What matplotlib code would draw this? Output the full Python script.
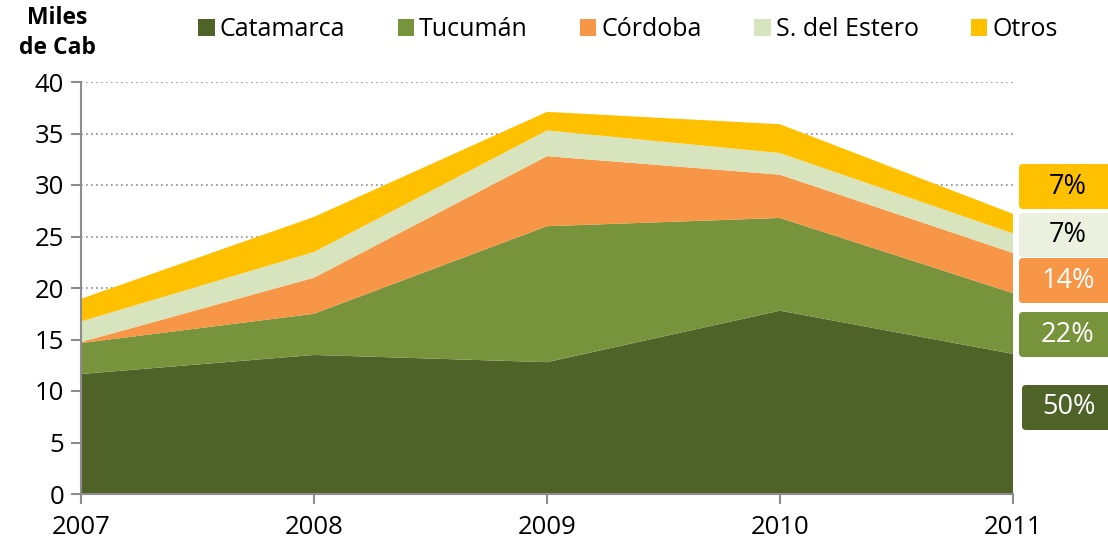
import matplotlib
matplotlib.use('Agg')
import matplotlib.pyplot as plt
from matplotlib.patches import FancyBboxPatch, Patch
import numpy as np

# datos (miles de cabezas)
years = [2007, 2008, 2009, 2010, 2011]
provinces = ['Catamarca', 'Tucumán', 'Córdoba', 'S. del Estero', 'Otros']
catamarca = [11.65, 13.5, 12.8, 17.8, 13.6]
tucuman = [3.0, 4.0, 13.2, 9.0, 5.9]
cordoba = [0.1, 3.5, 6.8, 4.2, 3.9]
estero = [2.0, 2.5, 2.5, 2.1, 1.9]
otros = [2.2, 3.4, 1.8, 2.8, 1.9]

colors = ['#4F6228', '#77933C', '#F79646', '#D7E4BD', '#FFC000']
box_colors = ['#4F6228', '#77933C', '#F79646', '#EBF1DE', '#FFC000']
box_text = ['white', 'white', 'white', 'black', 'black']

plt.rcParams['font.family'] = ['Open Sans', 'DejaVu Sans']

fig = plt.figure(figsize=(11.08, 5.41), dpi=100)
ax = fig.add_axes([81 / 1108, 47 / 541, 932 / 1108, 412 / 541])

series = [catamarca, tucuman, cordoba, estero, otros]
ax.stackplot(years, *series, colors=colors, zorder=2)

ax.set_xlim(2007, 2011)
ax.set_ylim(0, 40)
ax.set_yticks(np.arange(0, 41, 5))
ax.set_xticks(years)
ax.yaxis.grid(True, linestyle=(0, (1, 2)), color='#8C8C8C', linewidth=1.2, zorder=0)
ax.set_axisbelow(True)
for s in ['top', 'right']:
    ax.spines[s].set_visible(False)
for s in ['left', 'bottom']:
    ax.spines[s].set_color('#8C8C8C')
    ax.spines[s].set_linewidth(1.5)
    ax.spines[s].set_zorder(3)
ax.tick_params(axis='both', direction='out', length=7, width=1.5, color='#8C8C8C',
               labelsize=18.5, labelcolor='black')
ax.tick_params(axis='x', pad=8)
ax.tick_params(axis='y', pad=5)

fig.text(57 / 1108, 1 - 33 / 541, 'Miles\nde Cab', ha='center', va='center',
         fontsize=16.5, fontweight='bold', linespacing=1.3)

handles = [Patch(facecolor=c, edgecolor='none') for c in colors]
fig.legend(handles, provinces, loc='center', bbox_to_anchor=(628 / 1108, 1 - 30 / 541),
           ncol=5, frameon=False, fontsize=18, handlelength=0.65, handleheight=0.65,
           handletextpad=0.2, columnspacing=2.1, borderpad=0)

# cajas de porcentaje 2011
last = [s[-1] for s in series]
total = sum(last)
pcts = [round(v / total * 100) for v in last]
boxes = [(1022, 385, 430), (1019, 312, 357), (1019, 258, 303), (1019, 213, 257), (1019, 164, 209)]
for (x0, y0, y1), p, fc, tc in zip(boxes, pcts, box_colors, box_text):
    bx = FancyBboxPatch((x0, 541 - y1), 1108 - x0 + 10, y1 - y0,
                        boxstyle='round,pad=0,rounding_size=4', transform=None,
                        facecolor=fc, edgecolor='none')
    fig.patches.append(bx)
    fig.text((x0 + 1108) / 2 / 1108 + 0.004, 1 - (y0 + y1) / 2 / 541, f'{p}%',
             ha='center', va='center', fontsize=19.5, color=tc)

fig.savefig('out.png', dpi=100)
